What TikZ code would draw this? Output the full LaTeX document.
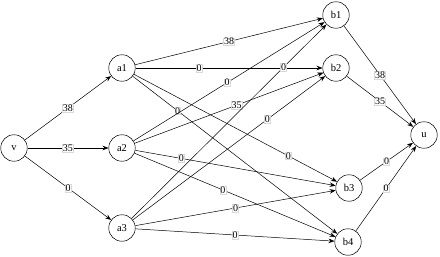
\documentclass[tikz,border=0pt]{standalone}
\usepackage{fontspec}
\setmainfont{Liberation Serif}
\usetikzlibrary{arrows.meta}
\begin{document}
\begin{tikzpicture}[x=1pt,y=-1pt,
  vtx/.style={circle,draw,line width=0.5pt,minimum size=26.5pt,inner sep=0pt,font=\fontsize{10.5}{12}\selectfont},
  edge/.style={draw,line width=0.5pt,-{Stealth[length=6pt,width=4.5pt]}},
  lbl/.style={fill=white,draw=gray!30,line width=0.4pt,inner sep=0.4pt,font=\fontsize{10}{11}\selectfont}]
\useasboundingbox (0,0) rectangle (440,257);
\node[vtx] (v)  at (14,148) {v};
\node[vtx] (a1) at (122,68) {a1};
\node[vtx] (a2) at (122,148) {a2};
\node[vtx] (a3) at (122,228) {a3};
\node[vtx] (b1) at (336,15) {b1};
\node[vtx] (b2) at (336,68) {b2};
\node[vtx] (b3) at (349,188) {b3};
\node[vtx] (b4) at (348,242) {b4};
\node[vtx] (u)  at (424,135) {u};
\draw[edge] (v) -- node[lbl]{38} (a1);
\draw[edge] (v) -- node[lbl]{35} (a2);
\draw[edge] (v) -- node[lbl]{0} (a3);
\draw[edge] (a1) -- node[lbl]{38} (b1);
\draw[edge] (a1) -- node[lbl,pos=0.34]{0} (b2);
\draw[edge] (a1) -- node[lbl,pos=0.76]{0} (b3);
\draw[edge] (a1) -- node[lbl,pos=0.22]{0} (b4);
\draw[edge] (a2) -- node[lbl,pos=0.49]{0} (b1);
\draw[edge] (a2) -- node[lbl,pos=0.54]{35} (b2);
\draw[edge] (a2) -- node[lbl,pos=0.23]{0} (b3);
\draw[edge] (a2) -- node[lbl,pos=0.44]{0} (b4);
\draw[edge] (a3) -- node[lbl,pos=0.78]{0} (b1);
\draw[edge] (a3) -- node[lbl,pos=0.7]{0} (b2);
\draw[edge] (a3) -- node[lbl]{0} (b3);
\draw[edge] (a3) -- node[lbl]{0} (b4);
\draw[edge] (b1) -- node[lbl]{38} (u);
\draw[edge] (b2) -- node[lbl]{35} (u);
\draw[edge] (b3) -- node[lbl]{0} (u);
\draw[edge] (b4) -- node[lbl]{0} (u);
\end{tikzpicture}
\end{document}
